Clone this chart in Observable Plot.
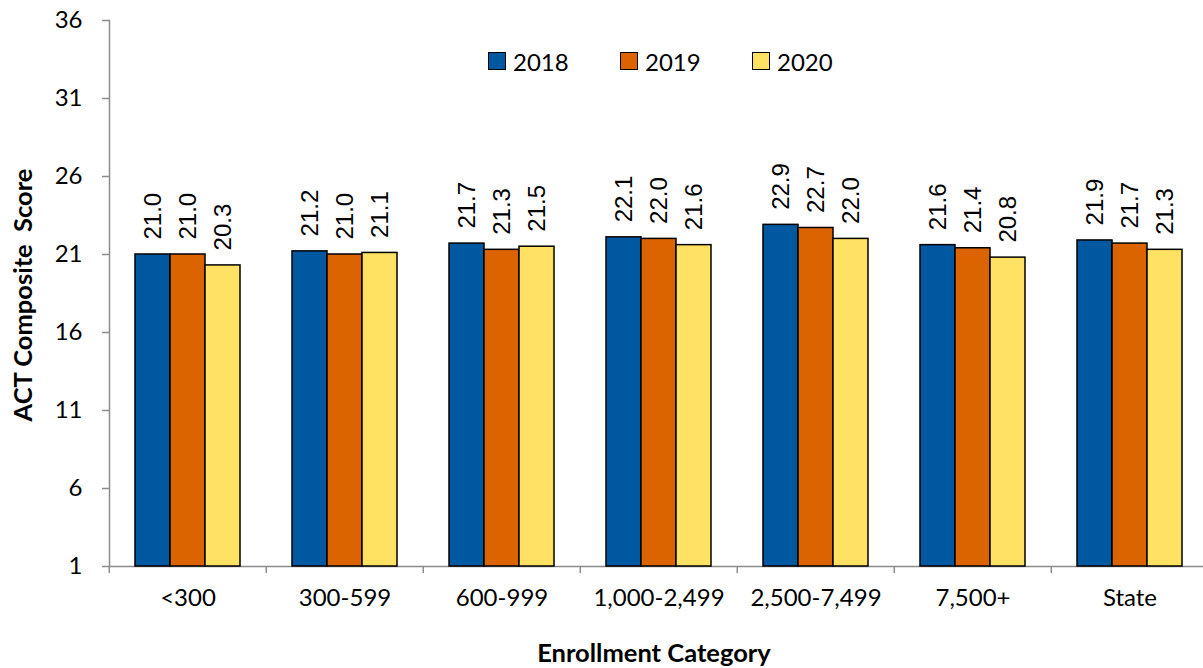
<!DOCTYPE html>
<html><head><meta charset="utf-8">
<script src="https://cdn.jsdelivr.net/npm/d3@7"></script>
<script src="https://cdn.jsdelivr.net/npm/@observablehq/plot@0.6"></script>
<style>
body{margin:0;background:#fff;}
#wrap{position:relative;width:1203px;height:668px;overflow:hidden;font-family:Lato,sans-serif;color:#000;}
#chart{position:absolute;left:0;top:0;}
#legend{position:absolute;left:488px;top:48px;height:26px;display:flex;align-items:center;font-size:24px;}
#legend .item{display:flex;align-items:center;width:132px;}
#legend .sw{width:16px;height:16px;border:1px solid #000;margin-right:7px;box-sizing:content-box;}
#ytitle{position:absolute;left:22px;top:295px;transform:translate(-50%,-50%) rotate(-90deg);white-space:pre;font-weight:bold;font-size:25.5px;}
#xtitle{position:absolute;left:654px;top:652px;transform:translate(-50%,-50%);white-space:nowrap;font-weight:bold;font-size:25.5px;}
</style></head><body>
<div id="wrap">
 <div id="chart"></div>
 <div id="legend"></div>
 <div id="ytitle"></div>
 <div id="xtitle"></div>
</div>
<script>
const categories = ["<300","300-599","600-999","1,000-2,499","2,500-7,499","7,500+","State"];
const years = ["2018","2019","2020"];
const scores2018 = [21.0,21.2,21.7,22.1,22.9,21.6,21.9];
const scores2019 = [21.0,21.0,21.3,22.0,22.7,21.4,21.7];
const scores2020 = [20.3,21.1,21.5,21.6,22.0,20.8,21.3];
const yTicks = [1,6,11,16,21,26,31,36];
const yDomain = [1,36];
const colors = ["#0058A0","#DB6400","#FFE264"];
const yTitle = "ACT Composite  Score";
const xTitle = "Enrollment Category";

const series = [scores2018, scores2019, scores2020];
const data = [];
categories.forEach((c,i)=>years.forEach((y,j)=>data.push({category:c, year:y, value:series[j][i]})));

const W = 1203, H = 668, mL = 107, mR = -6;
const halfBand = (W - mL - mR) / categories.length / 2;
const axisGray = "#8c8c8c";

const chart = Plot.plot({
  width: W, height: H,
  marginTop: 20, marginBottom: 102, marginLeft: mL, marginRight: mR,
  style: {fontFamily: "Lato, sans-serif", fontSize: "24px", background: "white", color: "black", overflow: "visible"},
  fx: {domain: categories, padding: 0, axis: null},
  x: {domain: years, paddingInner: 0, paddingOuter: 0.72, axis: null},
  y: {domain: yDomain, axis: null},
  color: {domain: years, range: colors},
  marks: [
    Plot.frame({anchor: "left", facetAnchor: "left", stroke: axisGray, strokeWidth: 1.5}),
    Plot.axisY({ticks: yTicks, tickSize: 7, tickPadding: 20, stroke: axisGray, strokeWidth: 1.5, label: null, fontSize: 24, fill: "black"}),
    Plot.ruleY([yDomain[0]], {stroke: axisGray, strokeWidth: 1.5}),
    Plot.axisFx({anchor: "bottom", tickSize: 0, tickPadding: 22, label: null, fontSize: 24, fill: "black"}),
    Plot.axisFx({anchor: "bottom", tickSize: 7, text: null, dx: -halfBand, label: null, stroke: axisGray, strokeWidth: 1.5}),
    Plot.barY(data, {fx: "category", x: "year", y1: yDomain[0], y2: "value", fill: "year", stroke: "black", strokeWidth: 1.5}),
    Plot.text(data, {fx: "category", x: "year", y: "value", text: d => d.value.toFixed(1), rotate: -90, textAnchor: "start", lineAnchor: "middle", dy: -15, fontFamily: "Liberation Sans, Arial, sans-serif", fontSize: 24, fill: "black"})
  ]
});
document.getElementById("chart").appendChild(chart);

const legend = document.getElementById("legend");
years.forEach((y,i)=>{
  const it = document.createElement("div"); it.className = "item";
  const sw = document.createElement("div"); sw.className = "sw"; sw.style.background = colors[i];
  const tx = document.createElement("span"); tx.textContent = y;
  it.appendChild(sw); it.appendChild(tx); legend.appendChild(it);
});
document.getElementById("ytitle").textContent = yTitle;
document.getElementById("xtitle").textContent = xTitle;
</script>
</body></html>
